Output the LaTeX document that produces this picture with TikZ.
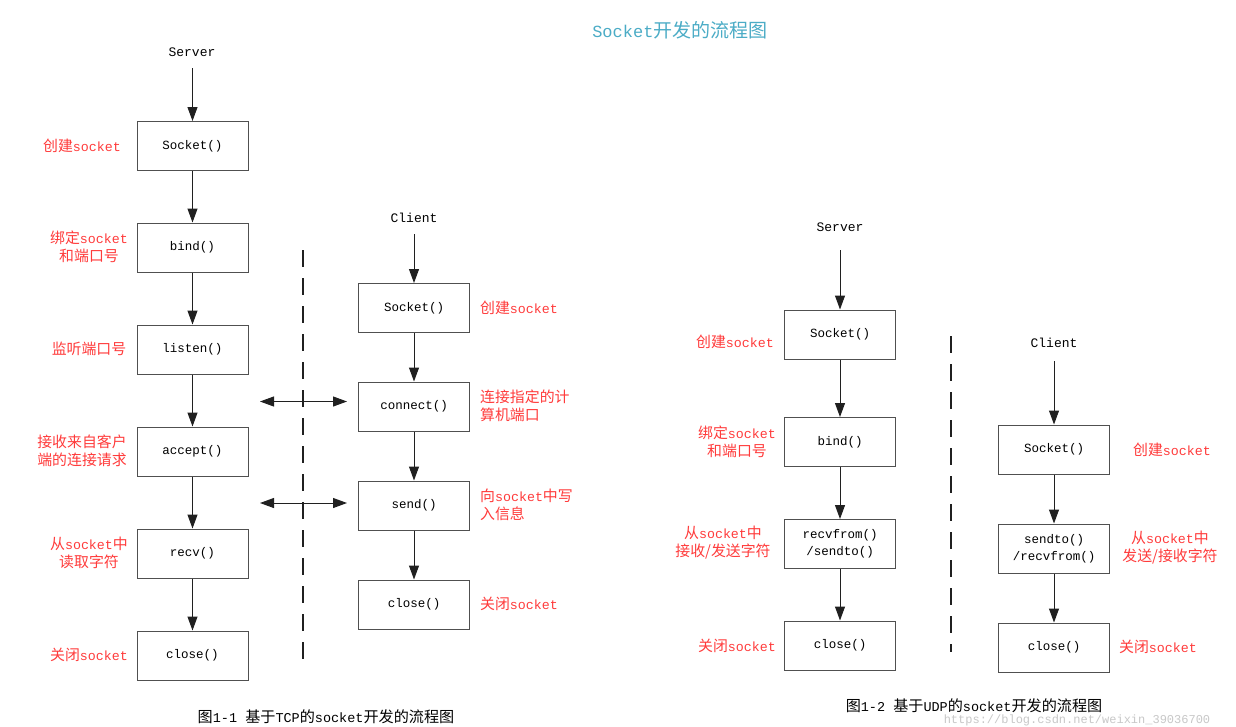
\documentclass[tikz,border=0pt]{standalone}
\usepackage{fontspec}
\setmainfont{Liberation Mono}
\newfontfamily\cjk[Scale=1.12]{Noto Sans CJK SC}
\newcommand{\zh}[1]{{\cjk #1}}
\usetikzlibrary{arrows.meta}
\definecolor{labred}{HTML}{FF3B3B}
\definecolor{titleblue}{HTML}{4BACC6}
\definecolor{boxgray}{HTML}{505050}
\definecolor{linegray}{HTML}{202020}
\definecolor{wmgray}{HTML}{C8C8C8}
\begin{document}
\begin{tikzpicture}[x=1pt,y=-1pt,
  box/.style={draw=boxgray, line width=1pt, minimum width=111pt, minimum height=49pt,
    inner sep=0pt, align=center, font=\fontsize{12.5}{17}\selectfont},
  lab/.style={text=labred, inner sep=0pt, font=\fontsize{13.3}{18}\selectfont},
  head/.style={inner sep=0pt, font=\fontsize{13}{15}\selectfont},
  arr/.style={-{Triangle[length=14pt,width=10pt]}, line width=1pt, draw=linegray},
  dbl/.style={{Triangle[length=14pt,width=10pt]}-{Triangle[length=14pt,width=10pt]}, line width=1pt, draw=linegray},
  sep/.style={draw=linegray, line width=1.2pt, dash pattern=on 17pt off 11pt},
  captext/.style={inner sep=0pt, font=\fontsize{13.5}{15}\selectfont}]
\useasboundingbox[fill=white] (0,0) rectangle (1236,726);

% title
\node[inner sep=0pt, text=titleblue, font=\fontsize{17}{20}\selectfont] (title) at (680,30) {Socket\zh{开发的流程图}};

% ---------- TCP server ----------
\node[head] (ts) at (192,52) {Server};
\node[box] (ts1) at (192.5,146) {Socket()};
\node[box] (ts2) at (192.5,247.5) {bind()};
\node[box] (ts3) at (192.5,349.5) {listen()};
\node[box] (ts4) at (192.5,451.5) {accept()};
\node[box] (ts5) at (192.5,553.5) {recv()};
\node[box] (ts6) at (192.5,655.5) {close()};
\coordinate (tsa) at (192.5,68);
\draw[arr] (tsa) -- (ts1);
\draw[arr] (ts1) -- (ts2);
\draw[arr] (ts2) -- (ts3);
\draw[arr] (ts3) -- (ts4);
\draw[arr] (ts4) -- (ts5);
\draw[arr] (ts5) -- (ts6);

\node[lab] (tl1) at (82,146) {\zh{创建}socket};
\node[lab, align=center] (tl2) at (89,247) {\zh{绑定}socket\\\zh{和端口号}};
\node[lab] (tl3) at (89,349) {\zh{监听端口号}};
\node[lab, align=center] (tl4) at (82,451) {\zh{接收来自客户}\\\zh{端的连接请求}};
\node[lab, align=center] (tl5) at (89,553) {\zh{从}socket\zh{中}\\\zh{读取字符}};
\node[lab] (tl6) at (89,655) {\zh{关闭}socket};

% separator
\coordinate (d1a) at (303,250);
\coordinate (d1b) at (303,662);
\draw[sep] (d1a) -- (d1b);

% ---------- TCP client ----------
\node[head] (tc) at (414,218) {Client};
\node[box] (tc1) at (414,308) {Socket()};
\node[box] (tc2) at (414,406.5) {connect()};
\node[box] (tc3) at (414,505.5) {send()};
\node[box] (tc4) at (414,604.5) {close()};
\coordinate (tca) at (414,234);
\draw[arr] (tca) -- (tc1);
\draw[arr] (tc1) -- (tc2);
\draw[arr] (tc2) -- (tc3);
\draw[arr] (tc3) -- (tc4);

\node[lab, anchor=west] (cl1) at (480,308) {\zh{创建}socket};
\node[lab, anchor=west, align=left] (cl2) at (480,406) {\zh{连接指定的计}\\\zh{算机端口}};
\node[lab, anchor=west, align=left] (cl3) at (480,505) {\zh{向}socket\zh{中写}\\\zh{入信息}};
\node[lab, anchor=west] (cl4) at (480,604) {\zh{关闭}socket};

% request / data exchange
\coordinate (x1a) at (260,401.5);
\coordinate (x1b) at (347,401.5);
\coordinate (x2a) at (260,503);
\coordinate (x2b) at (347,503);
\draw[dbl] (x1a) -- (x1b);
\draw[dbl] (x2a) -- (x2b);

% ---------- UDP server ----------
\node[head] (us) at (840,227) {Server};
\node[box] (us1) at (840,334.5) {Socket()};
\node[box] (us2) at (840,442) {bind()};
\node[box] (us3) at (840,544) {recvfrom()\\/sendto()};
\node[box] (us4) at (840,645.5) {close()};
\coordinate (usa) at (840,250);
\draw[arr] (usa) -- (us1);
\draw[arr] (us1) -- (us2);
\draw[arr] (us2) -- (us3);
\draw[arr] (us3) -- (us4);

\node[lab] (ul1) at (735,342) {\zh{创建}socket};
\node[lab, align=center] (ul2) at (737,442) {\zh{绑定}socket\\\zh{和端口号}};
\node[lab, align=center] (ul3) at (723,543) {\zh{从}socket\zh{中}\\\zh{接收/发送字符}};
\node[lab] (ul4) at (737,646) {\zh{关闭}socket};

% separator
\coordinate (d2a) at (951,336);
\coordinate (d2b) at (951,652);
\draw[sep] (d2a) -- (d2b);

% ---------- UDP client ----------
\node[head] (uc) at (1054,343) {Client};
\node[box] (uc1) at (1054,449.5) {Socket()};
\node[box] (uc2) at (1054,548.5) {sendto()\\/recvfrom()};
\node[box] (uc3) at (1054,647.5) {close()};
\coordinate (uca) at (1054,361);
\draw[arr] (uca) -- (uc1);
\draw[arr] (uc1) -- (uc2);
\draw[arr] (uc2) -- (uc3);

\node[lab] (rl1) at (1172,450) {\zh{创建}socket};
\node[lab, align=center] (rl2) at (1170,548) {\zh{从}socket\zh{中}\\\zh{发送/接收字符}};
\node[lab] (rl3) at (1158,647) {\zh{关闭}socket};

% captions
\node[captext] (cap1) at (326,717) {\zh{图}1-1 \zh{基于}TCP\zh{的}socket\zh{开发的流程图}};
\node[captext] (cap2) at (974,706) {\zh{图}1-2 \zh{基于}UDP\zh{的}socket\zh{开发的流程图}};
\node[captext, text=wmgray, font=\fontsize{12}{14}\selectfont] (wm) at (1077,720.5) {https://blog.csdn.net/weixin\_39036700};
\end{tikzpicture}
\end{document}
